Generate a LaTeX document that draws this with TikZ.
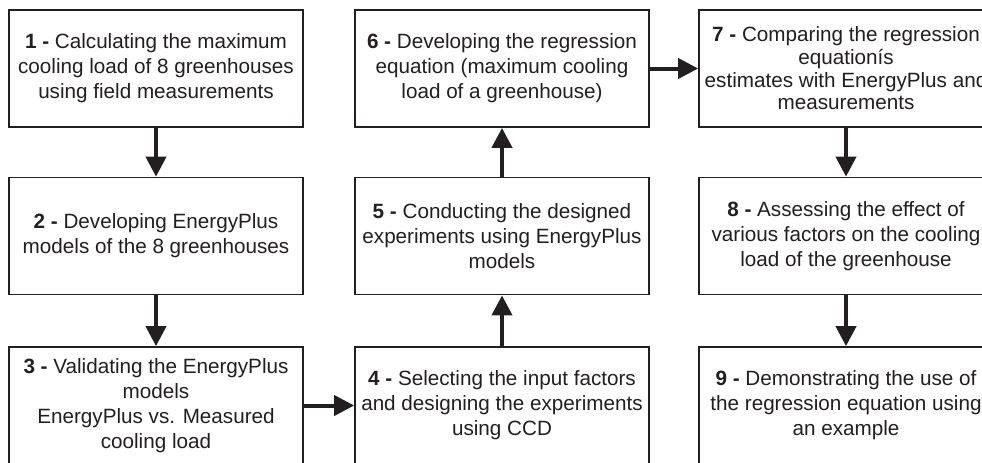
\documentclass[tikz,border=0pt]{standalone}
\usepackage{fontspec}
\setmainfont{Liberation Sans}
\usetikzlibrary{arrows.meta}
\definecolor{ink}{HTML}{231F20}
\begin{document}
\begin{tikzpicture}[x=0.75pt,y=-0.75pt,
  stepbox/.style={draw=ink, line width=1.3pt, fill=white, minimum width=220.5pt, minimum height=87.75pt,
    inner sep=0pt, align=center, text=ink, font=\fontsize{15.5pt}{18.8pt}\selectfont},
  flow/.style={draw=ink, line width=3pt, -{Triangle[length=15pt,width=15pt]}}]
\useasboundingbox (0,0) rectangle (982,462);
\clip (0,0) rectangle (982,462);
\node[stepbox] (b1) at (156,68.5) {\textbf{1 -} Calculating the maximum\\cooling load of 8 greenhouses\\using field measurements};
\node[stepbox] (b2) at (156,236) {\textbf{2 -} Developing EnergyPlus\\models of the 8 greenhouses};
\node[stepbox] (b3) at (156,405.5) {\textbf{3 -} Validating the EnergyPlus\\models\\EnergyPlus vs. Measured\\cooling load};
\node[stepbox] (b4) at (502,405.5) {\textbf{4 -} Selecting the input factors\\and designing the experiments\\using CCD};
\node[stepbox] (b5) at (502,236) {\textbf{5 -} Conducting the designed\\experiments using EnergyPlus\\models};
\node[stepbox] (b6) at (502,68.5) {\textbf{6 -} Developing the regression\\equation (maximum cooling\\load of a greenhouse)};
\node[stepbox, font=\fontsize{15.5pt}{17pt}\selectfont] (b7) at (846,68.5) {\textbf{7 -} Comparing the regression\\equationís\\estimates with EnergyPlus and\\measurements};
\node[stepbox] (b8) at (846,236) {\textbf{8 -} Assessing the effect of\\various factors on the cooling\\load of the greenhouse};
\node[stepbox] (b9) at (846,405.5) {\textbf{9 -} Demonstrating the use of\\the regression equation using\\an example};
\draw[flow] (b1) -- (b2);
\draw[flow] (b2) -- (b3);
\draw[flow] (b3) -- (b4);
\draw[flow] (b4) -- (b5);
\draw[flow] (b5) -- (b6);
\draw[flow] (b6) -- (b7);
\draw[flow] (b7) -- (b8);
\draw[flow] (b8) -- (b9);
\end{tikzpicture}
\end{document}
